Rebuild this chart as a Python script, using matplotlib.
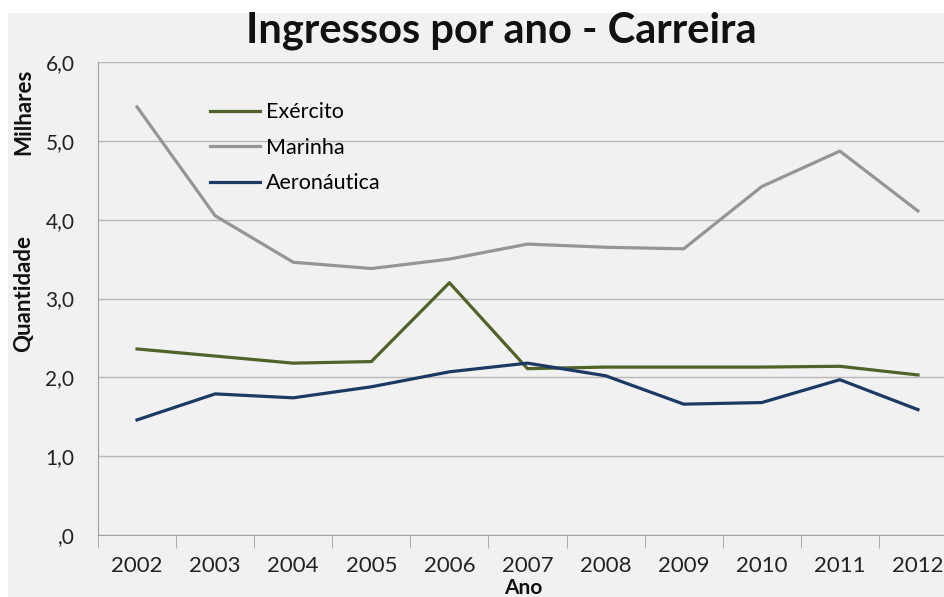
import numpy as np
import matplotlib.pyplot as plt
from matplotlib.patches import Rectangle

# Data (milhares)
anos = [2002, 2003, 2004, 2005, 2006, 2007, 2008, 2009, 2010, 2011, 2012]
exercito = [2.36, 2.27, 2.18, 2.20, 3.20, 2.11, 2.13, 2.13, 2.13, 2.14, 2.03]
marinha = [5.43, 4.05, 3.46, 3.38, 3.50, 3.69, 3.65, 3.63, 4.42, 4.87, 4.11]
aeronautica = [1.46, 1.79, 1.74, 1.88, 2.07, 2.18, 2.02, 1.66, 1.68, 1.97, 1.59]
y_ticks = [0, 1, 2, 3, 4, 5, 6]
y_labels = [',0', '1,0', '2,0', '3,0', '4,0', '5,0', '6,0']

plt.rcParams['font.family'] = ['Lato', 'DejaVu Sans']
bg = '#f1f1f1'

fig = plt.figure(figsize=(9.45, 5.97), dpi=100, facecolor=bg)
W, H = 945, 597
# white strip at the top and left edge of the screenshot
fig.patches.append(Rectangle((0, 1 - 13 / H), 1, 13 / H, transform=fig.transFigure,
                             facecolor='white', edgecolor='none', zorder=-1))
fig.patches.append(Rectangle((0, 0), 8 / W, 1, transform=fig.transFigure,
                             facecolor='white', edgecolor='none', zorder=-1))

ax = fig.add_axes([98 / W, 62 / H, 859 / W, 473 / H], facecolor=bg)

x = np.arange(len(anos))
ax.plot(x, exercito, color='#4f6228', linewidth=2.3, label='Exército')
ax.plot(x, marinha, color='#959595', linewidth=2.3, label='Marinha')
ax.plot(x, aeronautica, color='#1b3a63', linewidth=2.3, label='Aeronáutica')

ax.set_xlim(-0.5, len(anos) - 0.5)
ax.set_ylim(0, 6)
ax.set_yticks(y_ticks)
ax.set_yticklabels(y_labels, fontsize=15, color='#222222')
ax.set_xticks(x)
ax.set_xticklabels([str(a) for a in anos], fontsize=16, color='#222222')
ax.tick_params(axis='x', which='major', length=0, pad=15)
ax.set_xticks(np.arange(-0.5, len(anos)), minor=True)
ax.tick_params(axis='x', which='minor', length=9, color='#a0a0a0')
ax.tick_params(axis='y', length=0, pad=17)

ax.grid(axis='y', color='#b8b8b8', linewidth=1)
ax.set_axisbelow(True)
for s in ['top', 'right']:
    ax.spines[s].set_visible(False)
ax.spines['left'].set_color('#a0a0a0')
ax.spines['bottom'].set_color('#a0a0a0')

fig.text(501 / W, 1 - 31 / H, 'Ingressos por ano - Carreira', ha='center', va='center',
         fontsize=30, fontweight='bold', color='#111111')
fig.text(24 / W, 1 - 294 / H, 'Quantidade', rotation=90, ha='center', va='center',
         fontsize=16, fontweight='bold', color='#111111')
fig.text(24 / W, 1 - 112 / H, 'Milhares', rotation=90, ha='center', va='center',
         fontsize=16, fontweight='bold', color='#111111')
fig.text(523 / W, 1 - 588 / H, 'Ano', ha='center', va='center',
         fontsize=15, fontweight='bold', color='#111111')

ax.legend(loc='upper left', bbox_to_anchor=(93 / 859, 1 - 21 / 473), frameon=False,
          fontsize=15.5, handlelength=2.3, labelspacing=0.72, handletextpad=0.3)

fig.savefig('out.png', dpi=100, facecolor=bg)
